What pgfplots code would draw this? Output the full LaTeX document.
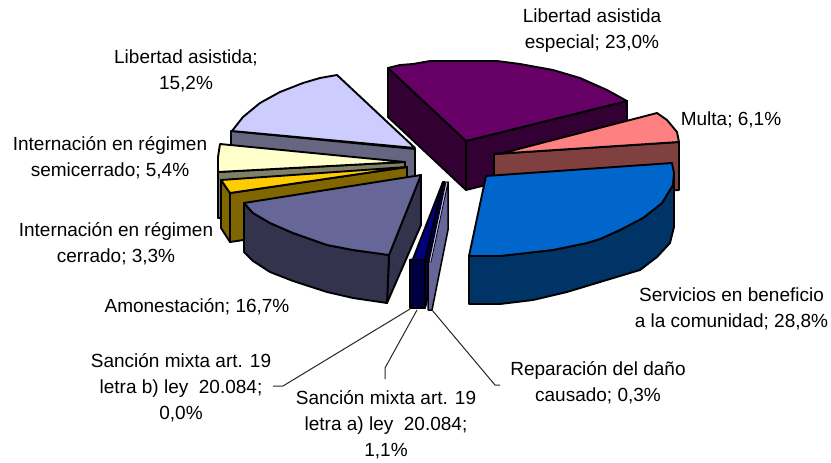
\documentclass[border=0pt]{standalone}
\usepackage{fontspec}
\setmainfont{Liberation Sans}
\usepackage{pgfplots}
\pgfplotsset{compat=1.18}
\definecolor{purT}{RGB}{102,0,102}\definecolor{purS}{RGB}{51,0,51}
\definecolor{pinT}{RGB}{255,128,128}\definecolor{pinS}{RGB}{128,64,64}
\definecolor{bluT}{RGB}{0,102,204}\definecolor{bluS}{RGB}{0,51,102}
\definecolor{lavT}{RGB}{204,204,255}\definecolor{lavS}{RGB}{102,102,128}
\definecolor{creT}{RGB}{255,255,204}\definecolor{creS}{RGB}{128,128,102}
\definecolor{golT}{RGB}{255,204,0}\definecolor{golS}{RGB}{128,102,0}
\definecolor{slaT}{RGB}{102,102,153}\definecolor{slaS}{RGB}{51,51,77}
\definecolor{navT}{RGB}{0,0,128}\definecolor{navS}{RGB}{0,0,64}
\definecolor{txt}{RGB}{0,0,0}
\tikzset{lab/.style={font=\fontsize{19}{26}\selectfont,align=center,anchor=center,text=txt,inner sep=0pt,yshift=-1.5pt},
  e/.style={draw=black,line width=1.9pt,line join=round}}
\begin{document}
\begin{tikzpicture}
\begin{axis}[
  scale only axis,width=831pt,height=463pt,
  xmin=0,xmax=831,ymin=0,ymax=463,y dir=reverse,
  axis lines=none,clip=false,
]
\path (axis cs:0,0) rectangle (axis cs:831,463);
% Libertad asistida especial 23,0%
\addplot[e,fill=purS] coordinates {(388,68)(466,141)(466,190)(388,117)} --cycle;
\addplot[e,fill=purS] coordinates {(466,141)(627,101)(627,150)(466,190)} --cycle;
\addplot[e,fill=purT] coordinates {(388,68)(400,65)(413,64)(430,61)(497,61)(520,64)(553,70)(580,78)(607,90)(627,101)(466,141)} --cycle;
% Multa 6,1%
\addplot[e,fill=pinS] coordinates {(494,154)(679,142)(679,190)(494,203)} --cycle;
\addplot[e,fill=pinT] coordinates {(503,153)(657,113)(667,120)(677,132)(679,142)(494,154)} --cycle;
% Servicios en beneficio 28,8%
\addplot[e,fill=bluS] coordinates {(469,256)(500,256)(553,250)(587,243)(600,239)(620,230)(643,218)(662,203)(673,185)(674,175)(674,227)(670,243)(657,257)(640,270)(600,282)(567,292)(533,300)(500,304)(469,304)} --cycle;
\addplot[e,fill=bluT] coordinates {(486,176)(672,163)(674,173)(673,185)(662,203)(643,218)(620,230)(600,239)(587,243)(553,250)(500,256)(469,256)} --cycle;
% Libertad asistida 15,2%
\addplot[e,fill=lavS] coordinates {(231,131)(415,149)(415,178)(231,160)} --cycle;
\addplot[e,fill=lavT] coordinates {(337,75)(320,78)(303,83)(280,92)(260,103)(243,117)(232,131)(415,148)} --cycle;
% Internacion semicerrado 5,4%
\addplot[e,fill=creS] coordinates {(218,172)(405,162)(405,210)(218,218)} --cycle;
\addplot[e,fill=creT] coordinates {(220,144)(218,157)(218,172)(405,162)} --cycle;
% Internacion cerrado 3,3%
\addplot[e,fill=golS] coordinates {(230,193)(407,167)(407,216)(230,242)} --cycle;
\addplot[e,fill=golS] coordinates {(221,180)(230,193)(230,242)(221,228)} --cycle;
\addplot[e,fill=golT] coordinates {(221,180)(407,167)(230,193)} --cycle;
% Amonestacion 16,7%
\addplot[e,fill=slaS] coordinates {(421,175)(389,255)(387,303)(421,225)} --cycle;
\addplot[e,fill=slaS] coordinates {(244,203)(253,213)(270,223)(293,233)(327,245)(353,250)(389,255)(387,303)(353,298)(327,292)(293,281)(270,272)(253,261)(244,252)} --cycle;
\addplot[e,fill=slaT] coordinates {(244,203)(421,175)(389,255)(353,250)(327,245)(293,233)(270,223)(253,213)} --cycle;
% Sancion mixta a) 1,1%
\addplot[e,fill=navS] coordinates {(425,259)(443,182)(445,182)(445,230)(425,308)} --cycle;
\addplot[e,fill=navS] coordinates {(410,260)(425,260)(425,308)(410,308)} --cycle;
\addplot[e,fill=navT] coordinates {(443,182)(413,259)(410,260)(425,260)} --cycle;
% Reparacion 0,3%
\addplot[e,fill=slaT,line width=1.5pt] coordinates {(448,182)(448,230)(432,310)(428,310)(428,263)} --cycle;
\addplot[e,fill=lavT,line width=.8pt] coordinates {(446,182)(429,262)(431,262)(448,182)} --cycle;
% Leader lines
\addplot[line width=1pt,draw=black!85] coordinates {(410,309)(283,386)(273,386)};
\addplot[line width=1pt,draw=black!85] coordinates {(417,310)(385,368)(385,379)};
\addplot[line width=1pt,draw=black!85] coordinates {(432,310)(495,385)(500,385)};
% Labels
\node[lab] at (axis cs:592,29) {Libertad asistida\\especial; 23,0\%};
\node[lab] at (axis cs:731,118) {Multa; 6,1\%};
\node[lab] at (axis cs:731.5,307) {Servicios en beneficio\\a la comunidad; 28,8\%};
\node[lab] at (axis cs:598,381) {Reparación del daño\\causado; 0,3\%};
\node[lab] at (axis cs:386,423) {Sanción mixta art. 19\\letra a) ley\ \ 20.084;\\1,1\%};
\node[lab] at (axis cs:181,386) {Sanción mixta art. 19\\letra b) ley\ \ 20.084;\\0,0\%};
\node[lab] at (axis cs:197,305) {Amonestación; 16,7\%};
\node[lab] at (axis cs:116,242) {Internación en régimen\\cerrado; 3,3\%};
\node[lab] at (axis cs:110,156) {Internación en régimen\\semicerrado; 5,4\%};
\node[lab] at (axis cs:186,69) {Libertad asistida;\\15,2\%};
\end{axis}
\end{tikzpicture}
\end{document}
